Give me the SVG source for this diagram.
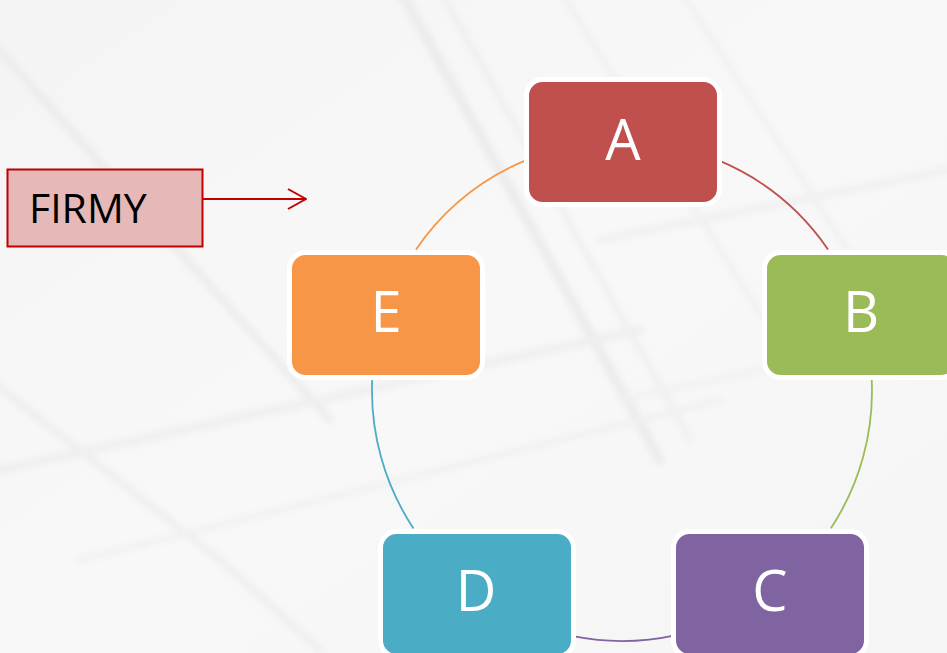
<svg xmlns="http://www.w3.org/2000/svg" width="947" height="653" viewBox="0 0 947 653">
  <defs>
    <linearGradient id="bg" x1="0" y1="0" x2="1" y2="1">
      <stop offset="0" stop-color="#f4f4f4"/>
      <stop offset="0.5" stop-color="#f8f8f8"/>
      <stop offset="1" stop-color="#f5f5f5"/>
    </linearGradient>
    <filter id="soft" x="-10%" y="-10%" width="120%" height="120%">
      <feGaussianBlur stdDeviation="3"/>
    </filter>
    <marker id="chev" viewBox="0 0 20 22" refX="19" refY="11" markerWidth="20" markerHeight="22" markerUnits="userSpaceOnUse" orient="auto">
      <path d="M1,1 L19,11 L1,21" fill="none" stroke="#C00000" stroke-width="2"/>
    </marker>
  </defs>
  <style>
    .node rect { stroke: #ffffff; stroke-width: 5; }
    .node text { fill: #ffffff; font-family: "Open Sans", "Liberation Sans", sans-serif; font-size: 56px; text-anchor: middle; }
    .arc { fill: none; stroke-width: 1.8; }
    .tex { fill: none; stroke-linecap: round; }
  </style>
  <rect x="0" y="0" width="947" height="653" fill="url(#bg)"/>
  <g id="background-texture" opacity="0.55" filter="url(#soft)">
    <path class="tex" d="M400,-10 L660,460" stroke="#e2e2e2" stroke-width="10"/>
    <path class="tex" d="M440,-10 L690,440" stroke="#e8e8e8" stroke-width="6"/>
    <path class="tex" d="M560,-10 L770,330" stroke="#e8e8e8" stroke-width="5"/>
    <path class="tex" d="M680,-10 L880,300" stroke="#e8e8e8" stroke-width="5"/>
    <path class="tex" d="M-10,40 L330,420" stroke="#e4e4e4" stroke-width="8"/>
    <path class="tex" d="M-10,380 L220,560 L320,650" stroke="#e6e6e6" stroke-width="7"/>
    <path class="tex" d="M0,470 L640,330" stroke="#e8e8e8" stroke-width="9"/>
    <path class="tex" d="M80,560 L720,400" stroke="#eaeaea" stroke-width="6"/>
    <path class="tex" d="M600,240 L947,170" stroke="#eaeaea" stroke-width="8"/>
    <path class="tex" d="M620,400 L947,330" stroke="#ebebeb" stroke-width="6"/>
  </g>
  <g id="connectors">
    <path class="arc" stroke="#C0504D" d="M716.9,159.7 A250,250 0 0 1 828.0,249.4"/>
    <path class="arc" stroke="#9BBB59" d="M871.7,379.2 A250,250 0 0 1 830.9,528.3"/>
    <path class="arc" stroke="#8064A2" d="M676.1,635.1 A250,250 0 0 1 573.0,636.2"/>
    <path class="arc" stroke="#4BACC6" d="M413.5,528.5 A250,250 0 0 1 372.2,380.1"/>
    <path class="arc" stroke="#F79646" d="M416.0,249.4 A250,250 0 0 1 528.0,159.4"/>
    <path d="M203,199 L306,199" stroke="#C00000" stroke-width="2" fill="none" marker-end="url(#chev)"/>
  </g>
  <g id="firmy">
    <rect x="7.5" y="169.5" width="195" height="77" fill="#E6B9B8" stroke="#C00000" stroke-width="2"/>
    <text x="29" y="223" font-family="Open Sans, Liberation Sans, sans-serif" font-size="41" fill="#000000">FIRMY</text>
  </g>
  <g id="node-A" class="node">
    <rect x="526.5" y="79.5" width="193" height="125" rx="16" fill="#C0504D"/>
    <text x="623" y="160">A</text>
  </g>
  <g id="node-B" class="node">
    <rect x="764.5" y="252.5" width="193" height="125" rx="16" fill="#9BBB59"/>
    <text x="861" y="332">B</text>
  </g>
  <g id="node-C" class="node">
    <rect x="673.5" y="531.5" width="193" height="125" rx="16" fill="#8064A2"/>
    <text x="770" y="611">C</text>
  </g>
  <g id="node-D" class="node">
    <rect x="380.5" y="531.5" width="193" height="125" rx="16" fill="#4BACC6"/>
    <text x="476" y="611">D</text>
  </g>
  <g id="node-E" class="node">
    <rect x="289.5" y="252.5" width="193" height="125" rx="16" fill="#F79646"/>
    <text x="386" y="332">E</text>
  </g>
</svg>
